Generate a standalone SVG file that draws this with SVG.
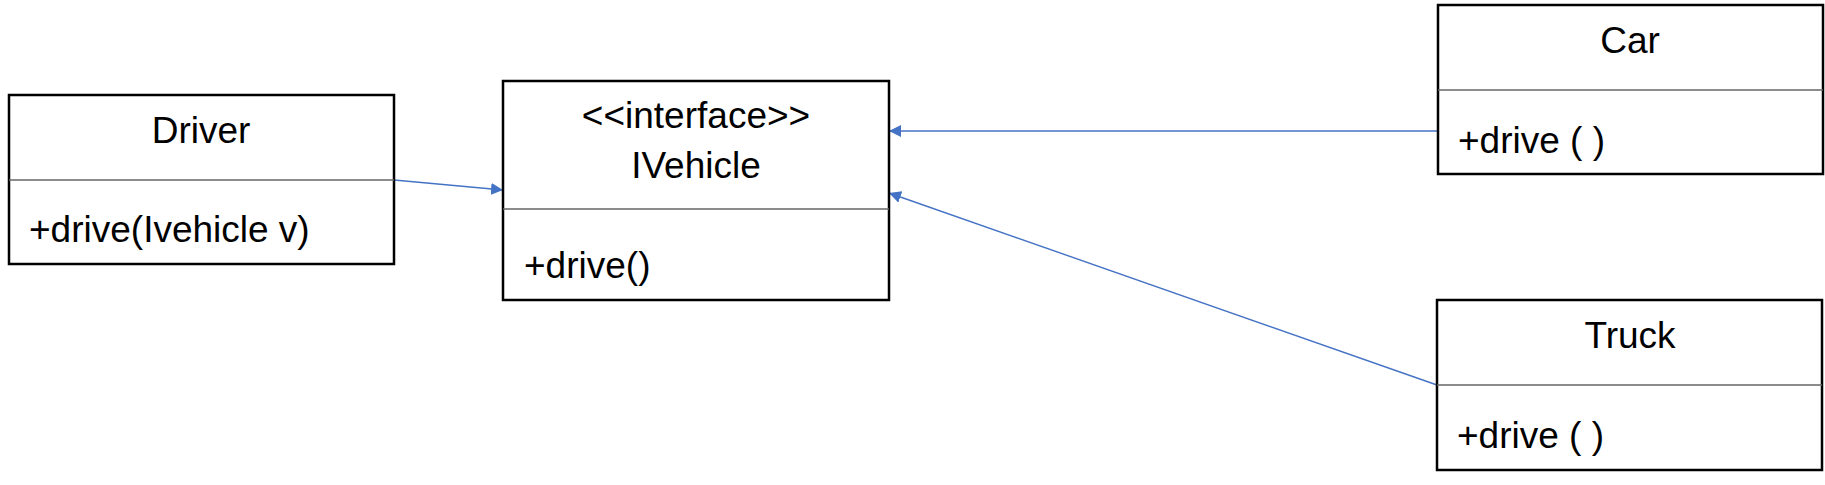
<svg xmlns="http://www.w3.org/2000/svg" width="1825" height="485" viewBox="0 0 1825 485">
<style>
.box{fill:#fff;stroke:#000;stroke-width:2.5}
.div{stroke:#666;stroke-width:1.5}
.t{font-family:"Liberation Sans",Arial,sans-serif;font-size:37px;fill:#000}
.c{text-anchor:middle}
.con{stroke:#4472C4;stroke-width:1.4;fill:none;marker-end:url(#arr)}
</style>
<defs>
<marker id="arr" viewBox="0 0 10 10" refX="10" refY="5" markerWidth="12" markerHeight="12" markerUnits="userSpaceOnUse" orient="auto">
<path d="M0,0 L10,5 L0,10 z" fill="#4472C4"/>
</marker>
</defs>
<g id="connectors">
<line class="con" x1="394" y1="180" x2="503" y2="190"/>
<line class="con" x1="1438" y1="131" x2="889" y2="131"/>
<line class="con" x1="1437" y1="385" x2="889" y2="193"/>
</g>
<g id="driver">
<rect class="box" x="9" y="95" width="385" height="169"/>
<line class="div" x1="9" y1="180" x2="394" y2="180"/>
<text class="t c" x="201" y="143">Driver</text>
<text class="t" x="29" y="242">+drive(Ivehicle v)</text>
</g>
<g id="ivehicle">
<rect class="box" x="503" y="81" width="386" height="219"/>
<line class="div" x1="503" y1="209" x2="889" y2="209"/>
<text class="t c" x="696" y="128">&lt;&lt;interface&gt;&gt;</text>
<text class="t c" x="696" y="178">IVehicle</text>
<text class="t" x="524" y="278">+drive()</text>
</g>
<g id="car">
<rect class="box" x="1438" y="5" width="385" height="169"/>
<line class="div" x1="1438" y1="90" x2="1823" y2="90"/>
<text class="t c" x="1630" y="53">Car</text>
<text class="t" x="1458" y="153">+drive ( )</text>
</g>
<g id="truck">
<rect class="box" x="1437" y="300" width="385" height="170"/>
<line class="div" x1="1437" y1="385" x2="1822" y2="385"/>
<text class="t c" x="1630" y="348">Truck</text>
<text class="t" x="1457" y="448">+drive ( )</text>
</g>
</svg>
